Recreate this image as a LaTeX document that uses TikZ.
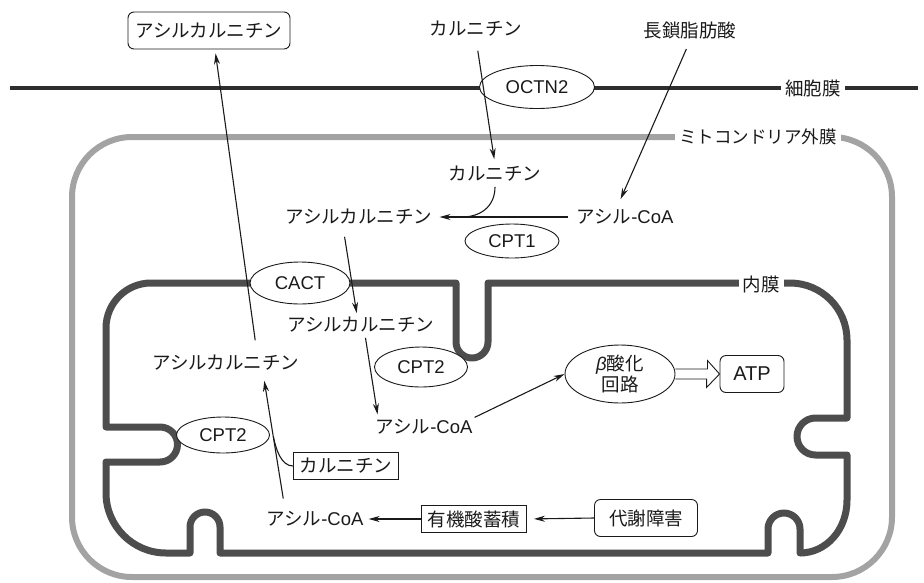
\documentclass[tikz,border=0pt]{standalone}
\usepackage{fontspec}
\setmainfont{Liberation Sans}
\newfontfamily\jp{Noto Sans CJK JP}
\usetikzlibrary{arrows.meta,shapes.geometric,calc}
\definecolor{cellc}{HTML}{2E2E2E}
\definecolor{outerc}{HTML}{A3A3A3}
\definecolor{innerc}{HTML}{4D4D4D}
\definecolor{inkc}{HTML}{1A1A1A}
\begin{document}
\begin{tikzpicture}[x=1pt,y=1pt,
  lbl/.style={font=\fontsize{18.5}{21}\selectfont, text=inkc, inner sep=2pt},
  enz/.style={ellipse, draw=inkc, line width=0.9pt, fill=white, inner sep=0pt, font=\fontsize{18.5}{21}\selectfont, text=inkc},
  rbox/.style={draw=inkc, line width=0.9pt, rounded corners=6pt, fill=white, inner sep=0pt, font=\fontsize{18.5}{21}\selectfont, text=inkc},
  sbox/.style={draw=inkc, line width=0.9pt, fill=white, inner sep=0pt, font=\fontsize{18.5}{21}\selectfont, text=inkc},
  memlbl/.style={lbl, fill=white, inner xsep=4pt, inner ysep=3pt},
  arr/.style={draw=inkc, line width=1.1pt, -{Stealth[length=11pt,width=6pt]}},
  link/.style={draw=inkc, line width=1.1pt},
  hollow/.style={draw=inkc, line width=0.9pt, line join=miter},
  cellmem/.style={draw=cellc, line width=4pt},
  outermem/.style={draw=outerc, line width=6pt},
  innermem/.style={draw=innerc, line width=7pt, line join=round}]
\useasboundingbox (0,0) rectangle (924,-582);

% membranes
\draw[cellmem] (10,-88) -- (918,-88);
\draw[outermem, rounded corners=60pt] (72,-137) rectangle (892,-577);
\draw[innermem] (106,-328) .. controls (106,-303.2) and (126.2,-283) .. (151,-283)
 -- (456,-283) -- (456,-342)
 .. controls (456,-350.8) and (463.2,-358) .. (472,-358)
 .. controls (480.8,-358) and (488,-350.8) .. (488,-342)
 -- (488,-283) -- (790,-283)
 .. controls (821.5,-283) and (847,-308.5) .. (847,-340)
 -- (847,-418) -- (815.5,-418)
 .. controls (805.3,-418) and (797,-426.3) .. (797,-436.5)
 .. controls (797,-446.7) and (805.3,-455) .. (815.5,-455)
 -- (847,-455) -- (847,-500)
 .. controls (847,-530) and (826,-553) .. (800,-553)
 -- (800,-529)
 .. controls (800,-520.2) and (792.8,-513) .. (784,-513)
 .. controls (775.2,-513) and (768,-520.2) .. (768,-529)
 -- (768,-553) -- (220,-553) -- (220,-527)
 .. controls (220,-518.7) and (213.3,-512) .. (205,-512)
 .. controls (196.7,-512) and (190,-518.7) .. (190,-527)
 -- (190,-553) -- (166,-553)
 .. controls (132.9,-553) and (106,-526.1) .. (106,-493)
 -- (106,-462) -- (160,-462)
 .. controls (169.7,-462) and (177.5,-454.2) .. (177.5,-444.5)
 .. controls (177.5,-434.8) and (169.7,-427) .. (160,-427)
 -- (106,-427) -- cycle;

% nodes
\node[rbox, minimum width=162pt, minimum height=37pt] (ac0) at (209,-30.5) {\jp アシルカルニチン};
\node[lbl] (c0) at (476,-29) {\jp カルニチン};
\node[lbl] (fa) at (690,-30) {\jp 長鎖脂肪酸};
\node[enz, minimum width=115pt, minimum height=43pt] (octn) at (537,-87) {OCTN2};
\node[memlbl] (cml) at (813,-88) {\jp 細胞膜};
\node[memlbl, font=\fontsize{17.5}{20}\selectfont] (oml) at (758,-137) {\jp ミトコンドリア外膜};
\node[memlbl] (iml) at (761,-284) {\jp 内膜};
\node[lbl] (cin) at (495,-174) {\jp カルニチン};
\node[lbl] (ac1) at (359,-217) {\jp アシルカルニチン};
\node[lbl] (acoa1) at (625,-217) {{\jp アシル}-CoA};
\node[enz, minimum width=94pt, minimum height=34pt] (cpt1) at (512,-241) {CPT1};
\node[enz, minimum width=100pt, minimum height=42pt] (cact) at (300,-283) {CACT};
\node[lbl] (ac2) at (361,-325) {\jp アシルカルニチン};
\node[enz, minimum width=93pt, minimum height=40pt] (cpt2a) at (421,-367) {CPT2};
\node[lbl] (acoa2) at (424,-427) {{\jp アシル}-CoA};
\node[enz, minimum width=110pt, minimum height=58pt, align=center] (beta) at (620,-374) {{\itshape β}{\jp 酸化}\\{\jp 回路}};
\node[rbox, minimum width=64pt, minimum height=37pt, font=\fontsize{20}{22}\selectfont] (atp) at (752,-374) {ATP};
\node[lbl] (ac3) at (226,-363) {\jp アシルカルニチン};
\node[enz, minimum width=93pt, minimum height=36pt] (cpt2b) at (223,-435) {CPT2};
\node[sbox, minimum width=105pt, minimum height=27pt] (cbox) at (346,-466) {\jp カルニチン};
\node[lbl] (acoa3) at (315,-519) {{\jp アシル}-CoA};
\node[sbox, minimum width=105pt, minimum height=27pt] (org) at (474,-519) {\jp 有機酸蓄積};
\node[rbox, minimum width=103pt, minimum height=37pt] (met) at (646,-518) {\jp 代謝障害};

% connectors
\draw[arr, shorten <=12pt, shorten >=5pt] (c0.south) -- (cin.north);
\draw[arr, shorten <=9pt, shorten >=9pt] (fa.south) -- ([xshift=-8pt]acoa1.north);
\draw[arr, shorten <=6pt, shorten >=5pt] (acoa1.west) -- (ac1.east);
\coordinate (m1) at (462,-217);
\draw[link] ([yshift=-3pt]cin.south) .. controls +(0,-20) and +(18,0) .. (m1);
\draw[arr, shorten <=10pt, shorten >=2pt] ([xshift=-16pt]ac1.south) -- ([xshift=-4pt]ac2.north);
\draw[arr, shorten <=3pt, shorten >=3pt] ([xshift=4pt]ac2.south) -- ([xshift=-46pt]acoa2.north);
\draw[arr] (acoa2.north east) -- (beta.west);
\draw[hollow] ($(beta.east)+(0,5)$) -- ++(32,0) -- ++(0,8.5) -- (atp.west) -- ++(-13,-13.5) -- ++(0,8.5) -- ($(beta.east)+(0,-5)$);
\draw[arr, shorten <=13pt, shorten >=4pt] ([xshift=31pt]ac3.north) -- ([xshift=6pt]ac0.south);
\draw[arr, shorten <=11pt, shorten >=8pt] ([xshift=-30pt]acoa3.north) -- ([xshift=37pt]ac3.south);
\coordinate (m2) at (273.5,-437);
\draw[link] (cbox.west) .. controls +(-12,0) and +(2.3,-11.8) .. (m2);
\draw[arr, shorten >=3pt] (org.west) -- (acoa3.east);
\draw[arr, shorten >=7pt] (met.west) -- (org.east);
\end{tikzpicture}
\end{document}
